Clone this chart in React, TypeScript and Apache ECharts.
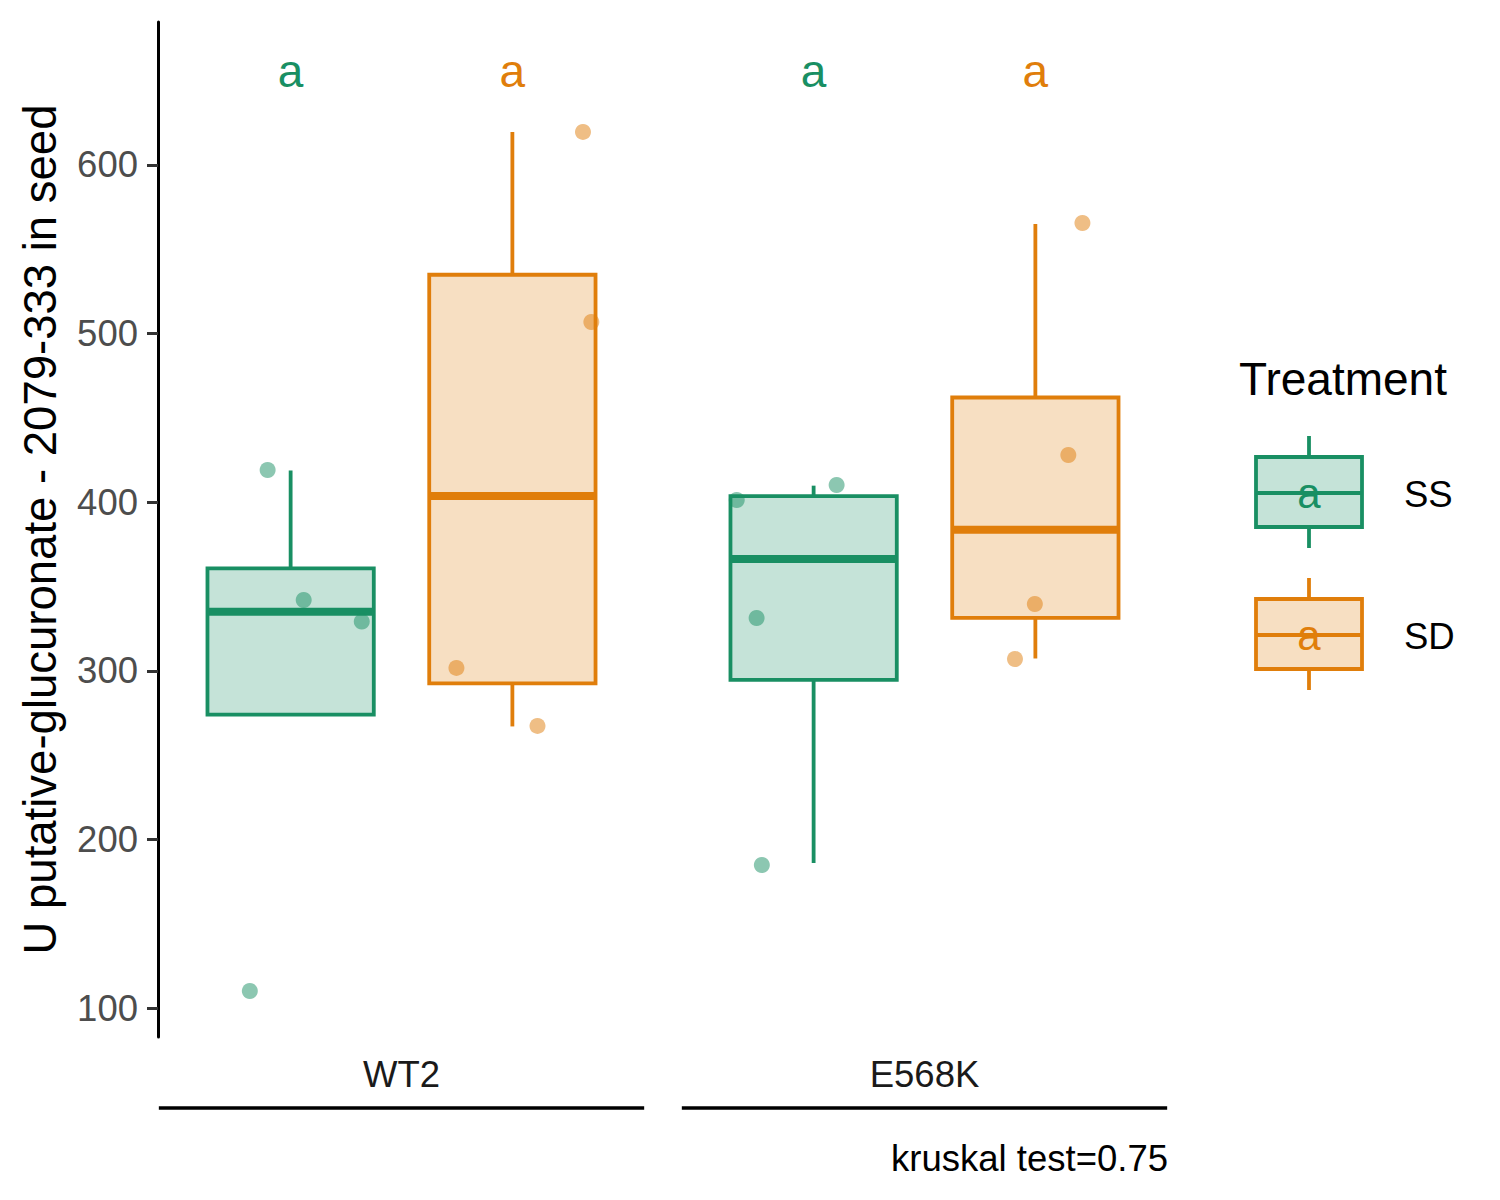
import { useEffect, useRef } from "react";
import * as echarts from "echarts";

const genotypes = ["WT2", "E568K"];
const treatments = ["SS", "SD"];
const treatmentColors = ["#198f63", "#e07e0b"];
const treatmentFills = ["rgba(25,143,99,0.25)", "rgba(224,126,11,0.25)"];

// [lower whisker, Q1, median, Q3, upper whisker], one row per genotype
const ssBoxes = [
  [274.0, 274.0, 335.0, 360.8, 418.8],
  [186.0, 294.6, 366.3, 403.6, 409.8],
];
const sdBoxes = [
  [267.0, 292.5, 403.6, 534.9, 619.6],
  [307.3, 331.4, 383.7, 462.1, 565.0],
];

// raw values and their horizontal jitter (x units) per genotype
const ssPoints = [
  [419.1, 342.0, 329.2, 110.1],
  [401.3, 410.2, 331.3, 184.8],
];
const ssJitter = [
  [-0.044, 0.025, 0.136, -0.078],
  [-0.147, 0.044, -0.109, -0.099],
];
const sdPoints = [
  [619.6, 506.9, 301.7, 267.3],
  [565.6, 428.0, 339.6, 307.0],
];
const sdJitter = [
  [0.135, 0.151, -0.107, 0.048],
  [0.09, 0.063, -0.001, -0.039],
];

const ssLetters = ["a", "a"];
const sdLetters = ["a", "a"];
const yTicks = [100, 200, 300, 400, 500, 600];

const FONT = '"Liberation Sans", Arial, Helvetica, sans-serif';
const DODGE = 0.212;
const HALF_BOX = 0.159;
const BRACKET_HALF = 0.464;
const LETTER_Y = 656;

const boxX = (g: number, t: number) => g + 1 + (t === 0 ? -DODGE : DODGE);

function boxSeries(t: number, boxes: number[][]) {
  const color = treatmentColors[t];
  return {
    type: "custom",
    name: treatments[t],
    z: 2,
    data: boxes.map((b, g) => [boxX(g, t), ...b]),
    encode: { x: 0, y: [1, 2, 3, 4, 5] },
    renderItem: (_params: any, api: any) => {
      const x = api.value(0);
      const [lo, q1, med, q3, hi] = [1, 2, 3, 4, 5].map((i) => api.coord([x, api.value(i)])[1]);
      const cx = api.coord([x, 0])[0];
      const half = api.size([HALF_BOX, 0])[0];
      const line = (x1: number, y1: number, x2: number, y2: number, w: number) => ({
        type: "line",
        shape: { x1, y1, x2, y2 },
        style: { stroke: color, lineWidth: w },
      });
      return {
        type: "group",
        children: [
          line(cx, hi, cx, q3, 3.8),
          line(cx, q1, cx, lo, 3.8),
          {
            type: "rect",
            shape: { x: cx - half, y: q3, width: half * 2, height: q1 - q3 },
            style: { fill: treatmentFills[t], stroke: color, lineWidth: 3.8 },
          },
          line(cx - half, med, cx + half, med, 8),
        ],
      };
    },
  };
}

function pointSeries(t: number, points: number[][], jitter: number[][]) {
  return {
    type: "scatter",
    name: treatments[t] + " points",
    z: 3,
    symbolSize: 16,
    itemStyle: { color: treatmentColors[t], opacity: 0.5 },
    data: points.flatMap((vals, g) => vals.map((v, i) => [boxX(g, t) + jitter[g][i], v])),
  };
}

function letterSeries(t: number, letters: string[]) {
  return {
    type: "custom",
    z: 4,
    data: letters.map((_, g) => [boxX(g, t), LETTER_Y]),
    encode: { x: 0, y: 1 },
    renderItem: (params: any, api: any) => {
      const p = api.coord([api.value(0), api.value(1)]);
      return {
        type: "text",
        x: p[0],
        y: p[1],
        style: {
          text: letters[params.dataIndex],
          fill: treatmentColors[t],
          fontSize: 46,
          fontFamily: FONT,
          align: "center",
          verticalAlign: "middle",
        },
      };
    },
  };
}

const bracketSeries = {
  type: "custom",
  z: 1,
  clip: false,
  data: genotypes.map((_, g) => [g + 1, 0]),
  encode: { x: 0 },
  renderItem: (params: any, api: any) => {
    const x = api.value(0);
    const y = params.coordSys.y + params.coordSys.height + 71;
    const left = api.coord([x - BRACKET_HALF, 100])[0];
    const right = api.coord([x + BRACKET_HALF, 100])[0];
    return {
      type: "line",
      shape: { x1: left, y1: y, x2: right, y2: y },
      style: { stroke: "#000", lineWidth: 3.5 },
    };
  },
};

function legendKey(t: number, top: number, label: string) {
  const color = treatmentColors[t];
  const cx = 1309;
  return {
    type: "group",
    children: [
      { type: "line", shape: { x1: cx, y1: top - 21, x2: cx, y2: top }, style: { stroke: color, lineWidth: 3.8 } },
      { type: "line", shape: { x1: cx, y1: top + 70, x2: cx, y2: top + 91 }, style: { stroke: color, lineWidth: 3.8 } },
      {
        type: "rect",
        shape: { x: 1256, y: top, width: 106, height: 70 },
        style: { fill: treatmentFills[t], stroke: color, lineWidth: 3.8 },
      },
      { type: "line", shape: { x1: 1256, y1: top + 36, x2: 1362, y2: top + 36 }, style: { stroke: color, lineWidth: 3.8 } },
      {
        type: "text",
        x: cx,
        y: top + 36,
        style: { text: "a", fill: color, fontSize: 42, fontFamily: FONT, align: "center", verticalAlign: "middle" },
      },
      {
        type: "text",
        x: 1404,
        y: top + 37,
        style: { text: label, fill: "#000", fontSize: 36.5, fontFamily: FONT, align: "left", verticalAlign: "middle" },
      },
    ],
  };
}

function Chart() {
  const chartRef = useRef<HTMLDivElement>(null);

  useEffect(() => {
    if (!chartRef.current) {
      return undefined;
    }
    const chart = echarts.init(chartRef.current, undefined, { renderer: "svg" });

    chart.setOption({
      animation: false,
      backgroundColor: "#fff",
      textStyle: { fontFamily: FONT },
      grid: { left: 158, top: 22, width: 1010, height: 1015, containLabel: false },
      xAxis: {
        type: "value",
        min: 0.5344,
        max: 2.4656,
        axisLine: { show: false },
        axisTick: { show: false },
        splitLine: { show: false },
        axisLabel: {
          customValues: [1, 2],
          formatter: (v: number) => genotypes[Math.round(v) - 1] ?? "",
          fontSize: 36.5,
          color: "#1a1a1a",
          fontFamily: FONT,
          margin: 19,
        },
      },
      yAxis: {
        type: "value",
        min: 82.8,
        max: 684.8,
        name: "U putative-glucuronate - 2079-333 in seed",
        nameLocation: "middle",
        nameGap: 95,
        nameTextStyle: { fontSize: 45.5, color: "#000", fontFamily: FONT },
        axisLine: { show: true, lineStyle: { color: "#000", width: 3 } },
        axisTick: { show: true, customValues: yTicks, length: 11, lineStyle: { color: "#333", width: 3 } },
        axisLabel: { customValues: yTicks, fontSize: 36.5, color: "#4d4d4d", fontFamily: FONT, margin: 20 },
        splitLine: { show: false },
      },
      series: [
        bracketSeries,
        boxSeries(0, ssBoxes),
        boxSeries(1, sdBoxes),
        pointSeries(0, ssPoints, ssJitter),
        pointSeries(1, sdPoints, sdJitter),
        letterSeries(0, ssLetters),
        letterSeries(1, sdLetters),
      ],
      graphic: [
        {
          type: "text",
          x: 1239,
          y: 379,
          style: { text: "Treatment", fill: "#000", fontSize: 46, fontFamily: FONT, align: "left", verticalAlign: "middle" },
        },
        legendKey(0, 457, treatments[0]),
        legendKey(1, 599, treatments[1]),
        {
          type: "text",
          x: 1168,
          y: 1158,
          style: {
            text: "kruskal test=0.75",
            fill: "#000",
            fontSize: 36.5,
            fontFamily: FONT,
            align: "right",
            verticalAlign: "middle",
          },
        },
      ],
    });

    return () => {
      chart.dispose();
    };
  }, []);

  return (
    <div
      ref={chartRef}
      style={{ position: "fixed", left: 0, top: 0, width: 1500, height: 1200, background: "#fff" }}
      aria-label="Box plot"
    />
  );
}

export default function App() {
  return <Chart />;
}
